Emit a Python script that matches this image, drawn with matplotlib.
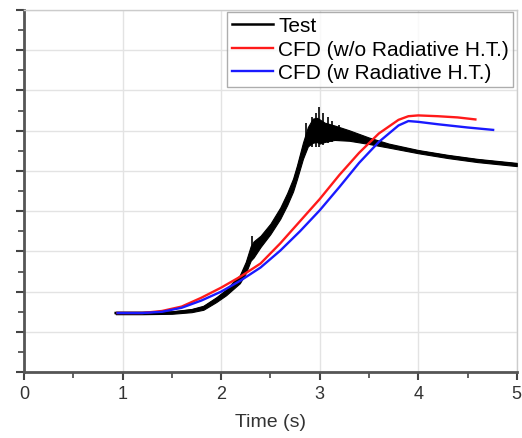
import matplotlib.pyplot as plt
import numpy as np
from matplotlib.ticker import MultipleLocator

plt.rcParams["font.family"] = ["Liberation Sans", "DejaVu Sans"]

# ------------------------------------------------------------
# Data
# ------------------------------------------------------------
test_t = [0.93, 1.2, 1.5, 1.7, 1.82, 1.95, 2.05, 2.12, 2.19, 2.25, 2.3, 2.33, 2.4, 2.5,
          2.6, 2.67, 2.73, 2.77, 2.83, 2.88, 2.93, 2.97, 3.0, 3.05, 3.15, 3.3, 3.5,
          3.7, 4.0, 4.3, 4.6, 5.0]
test_y = [1.47, 1.47, 1.48, 1.53, 1.6, 1.8, 1.98, 2.15, 2.31, 2.6, 2.95, 3.05, 3.25, 3.56,
          3.95, 4.3, 4.65, 4.97, 5.5, 5.85, 6.0, 6.02, 5.98, 5.96, 5.95, 5.88, 5.75,
          5.63, 5.48, 5.36, 5.26, 5.16]
test_band = [0.03, 0.03, 0.03, 0.04, 0.05, 0.06, 0.07, 0.09, 0.1, 0.14, 0.18, 0.2, 0.14, 0.13,
             0.14, 0.15, 0.16, 0.17, 0.2, 0.24, 0.3, 0.3, 0.3, 0.24, 0.18, 0.13, 0.08,
             0.05, 0.04, 0.04, 0.04, 0.04]

# visible noise spikes on the test trace
spike_t = [2.31, 2.86, 2.92, 2.96, 2.99, 3.03, 3.08, 3.13, 3.2]
spike_lo = [2.9, 5.5, 5.6, 5.6, 5.6, 5.65, 5.7, 5.72, 5.75]
spike_hi = [3.38, 6.2, 6.35, 6.45, 6.6, 6.45, 6.35, 6.25, 6.15]

red_t = [0.95, 1.2, 1.4, 1.6, 1.8, 2.0, 2.2, 2.4, 2.6, 2.8, 3.0, 3.2, 3.4, 3.6, 3.8,
         3.9, 4.0, 4.2, 4.4, 4.58]
red_y = [1.47, 1.47, 1.52, 1.63, 1.85, 2.1, 2.38, 2.7, 3.2, 3.75, 4.3, 4.9, 5.45, 5.93, 6.27,
         6.36, 6.38, 6.36, 6.33, 6.28]

blue_t = [0.95, 1.2, 1.4, 1.6, 1.8, 2.0, 2.2, 2.4, 2.6, 2.8, 3.0, 3.2, 3.4, 3.6, 3.8,
          3.9, 4.0, 4.2, 4.5, 4.76]
blue_y = [1.47, 1.47, 1.5, 1.6, 1.78, 2.0, 2.28, 2.6, 3.02, 3.5, 4.02, 4.6, 5.2,
          5.72, 6.13, 6.24, 6.22, 6.16, 6.08, 6.02]

labels = ["Test", "CFD (w/o Radiative H.T.)", "CFD (w Radiative H.T.)"]

# ------------------------------------------------------------
# Figure
# ------------------------------------------------------------
fig = plt.figure(figsize=(5.22, 4.39), dpi=100)
ax = fig.add_axes([0.046, 0.150, 0.944, 0.825])

tt = np.array(test_t)
ty = np.array(test_y)
tb = np.array(test_band)
ax.fill_between(tt, ty - tb, ty + tb, color="black", linewidth=0.8, zorder=3)
ax.vlines(spike_t, spike_lo, spike_hi, color="black", linewidth=1.2, zorder=3)
ax.plot(tt, ty, color="black", linewidth=1.8, label=labels[0], zorder=3)
ax.plot(red_t, red_y, color="#ff1a1a", linewidth=1.7, label=labels[1], zorder=4)
ax.plot(blue_t, blue_y, color="#1a1aff", linewidth=1.7, label=labels[2], zorder=5)

ax.set_xlim(0, 5)
ax.set_ylim(0, 9)
ax.xaxis.set_major_locator(MultipleLocator(1))
ax.xaxis.set_minor_locator(MultipleLocator(0.5))
ax.yaxis.set_major_locator(MultipleLocator(1))
ax.yaxis.set_minor_locator(MultipleLocator(0.5))
ax.set_yticklabels([])
ax.tick_params(axis="both", which="major", direction="out", length=6, width=1.5,
               color="#444444", labelsize=13, labelcolor="#333333")
ax.tick_params(axis="both", which="minor", direction="out", length=4, width=1.2,
               color="#444444")
ax.grid(True, which="major", color="#e3e3e3", linewidth=1.0)
ax.set_axisbelow(True)

for side in ["left", "bottom"]:
    ax.spines[side].set_color("#555555")
    ax.spines[side].set_linewidth(2.0)
for side in ["top", "right"]:
    ax.spines[side].set_color("#cccccc")
    ax.spines[side].set_linewidth(1.0)

ax.set_xlabel("Time (s)", fontsize=14, color="#333333", labelpad=8)

leg = ax.legend(loc="upper right", fontsize=15, frameon=True, fancybox=False,
                bbox_to_anchor=(0.993, 0.994), borderaxespad=0.0,
                handlelength=2.0, handletextpad=0.25,
                borderpad=0.2, labelspacing=0.22)
leg.get_frame().set_edgecolor("#999999")
leg.get_frame().set_linewidth(1.0)

fig.savefig("out.png", dpi=100)
